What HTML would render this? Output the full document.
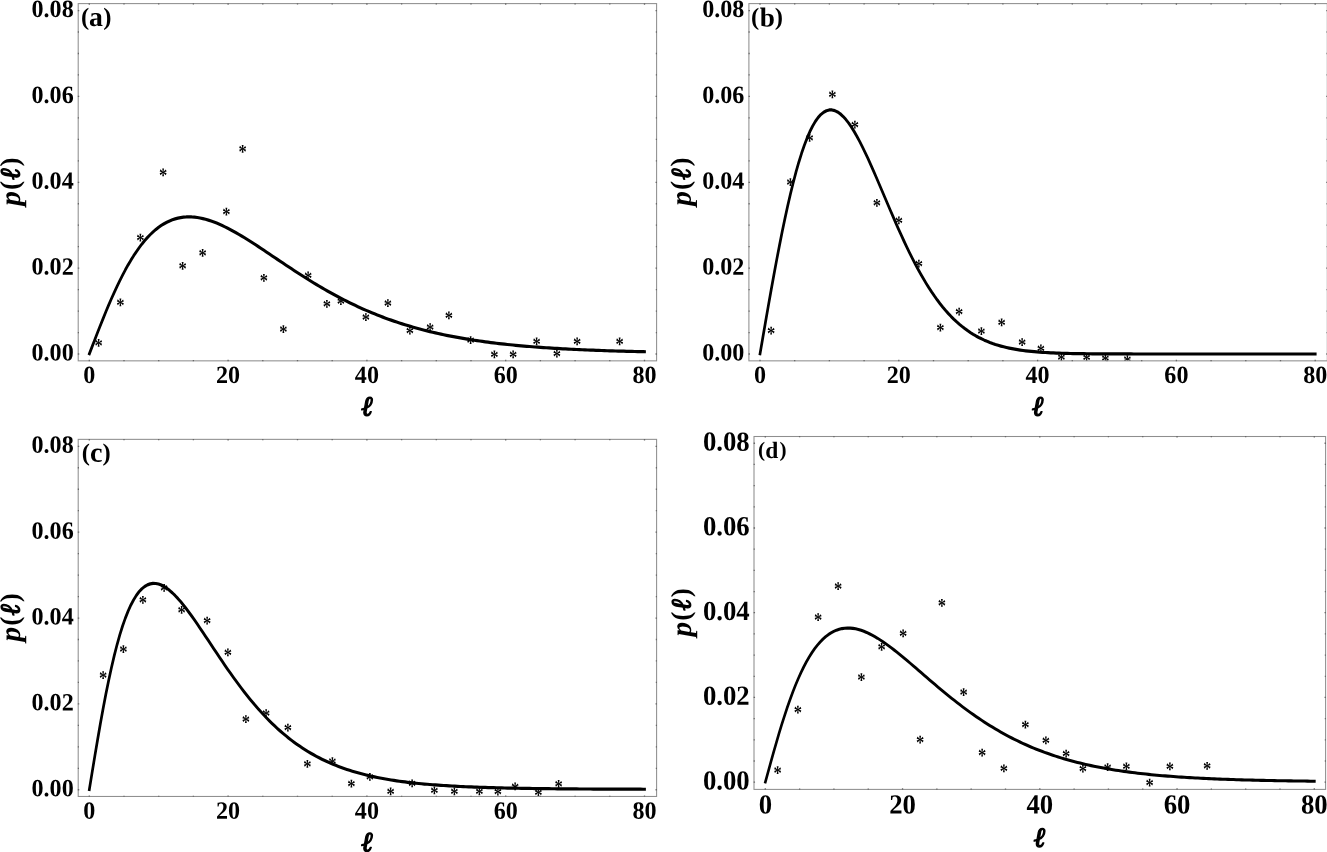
<!DOCTYPE html>
<html><head><meta charset="utf-8"><title>p(ℓ) distributions</title>
<style>html,body{margin:0;padding:0;background:#fff}svg{display:block}text{font-family:"Liberation Serif","Times New Roman",serif;font-weight:bold;fill:#000}.it{font-style:italic}</style></head>
<body>
<svg width="1327" height="852" viewBox="0 0 1327 852">
<rect width="1327" height="852" fill="#fff"/>
<g id="panel-a">
<clipPath id="clip-a"><rect x="78.2" y="3.6" width="578.4" height="357.25"/></clipPath>
<g clip-path="url(#clip-a)">
<g font-size="19.0" text-anchor="middle">
<text transform="translate(98.60 342.80) rotate(0.06) scale(0.87 1.08)" y="8.95">*</text>
<text transform="translate(120.30 302.40) rotate(0.06) scale(0.87 1.08)" y="8.95">*</text>
<text transform="translate(140.50 237.60) rotate(0.06) scale(0.87 1.08)" y="8.95">*</text>
<text transform="translate(163.20 172.40) rotate(0.06) scale(0.87 1.08)" y="8.95">*</text>
<text transform="translate(182.65 265.85) rotate(0.06) scale(0.87 1.08)" y="8.95">*</text>
<text transform="translate(202.75 252.80) rotate(0.06) scale(0.87 1.08)" y="8.95">*</text>
<text transform="translate(226.40 211.50) rotate(0.06) scale(0.87 1.08)" y="8.95">*</text>
<text transform="translate(242.70 148.90) rotate(0.06) scale(0.87 1.08)" y="8.95">*</text>
<text transform="translate(264.00 277.90) rotate(0.06) scale(0.87 1.08)" y="8.95">*</text>
<text transform="translate(283.30 329.00) rotate(0.06) scale(0.87 1.08)" y="8.95">*</text>
<text transform="translate(308.10 275.40) rotate(0.06) scale(0.87 1.08)" y="8.95">*</text>
<text transform="translate(326.80 303.80) rotate(0.06) scale(0.87 1.08)" y="8.95">*</text>
<text transform="translate(340.80 301.10) rotate(0.06) scale(0.87 1.08)" y="8.95">*</text>
<text transform="translate(365.85 317.00) rotate(0.06) scale(0.87 1.08)" y="8.95">*</text>
<text transform="translate(387.95 303.00) rotate(0.06) scale(0.87 1.08)" y="8.95">*</text>
<text transform="translate(409.80 330.50) rotate(0.06) scale(0.87 1.08)" y="8.95">*</text>
<text transform="translate(430.10 327.10) rotate(0.06) scale(0.87 1.08)" y="8.95">*</text>
<text transform="translate(448.80 315.30) rotate(0.06) scale(0.87 1.08)" y="8.95">*</text>
<text transform="translate(470.60 340.05) rotate(0.06) scale(0.87 1.08)" y="8.95">*</text>
<text transform="translate(494.40 354.40) rotate(0.06) scale(0.87 1.08)" y="8.95">*</text>
<text transform="translate(513.20 354.40) rotate(0.06) scale(0.87 1.08)" y="8.95">*</text>
<text transform="translate(536.60 341.30) rotate(0.06) scale(0.87 1.08)" y="8.95">*</text>
<text transform="translate(556.90 353.60) rotate(0.06) scale(0.87 1.08)" y="8.95">*</text>
<text transform="translate(577.10 341.30) rotate(0.06) scale(0.87 1.08)" y="8.95">*</text>
<text transform="translate(619.60 341.40) rotate(0.06) scale(0.87 1.08)" y="8.95">*</text>
</g>
<path transform="scale(1 1.18)" d="M88.84 301.02 L89.30 300.00 L92.07 293.87 L94.84 287.76 L97.61 281.71 L100.38 275.74 L103.15 269.87 L105.91 264.12 L108.68 258.52 L111.45 253.09 L114.22 247.83 L116.99 242.76 L119.76 237.89 L122.53 233.24 L125.30 228.79 L128.07 224.57 L130.84 220.58 L133.61 216.80 L136.37 213.26 L139.14 209.93 L141.91 206.83 L144.68 203.95 L147.45 201.29 L150.22 198.84 L152.99 196.60 L155.76 194.56 L158.53 192.71 L161.30 191.06 L164.07 189.60 L166.83 188.32 L169.60 187.21 L172.37 186.27 L175.14 185.49 L177.91 184.86 L180.68 184.39 L183.45 184.06 L186.22 183.87 L188.99 183.80 L191.76 183.87 L194.53 184.05 L197.29 184.34 L200.06 184.74 L202.83 185.24 L205.60 185.84 L208.37 186.52 L211.14 187.30 L213.91 188.15 L216.68 189.07 L219.45 190.07 L222.22 191.13 L224.99 192.25 L227.75 193.43 L230.52 194.65 L233.29 195.93 L236.06 197.25 L238.83 198.61 L241.60 200.00 L244.37 201.42 L247.14 202.88 L249.91 204.36 L252.68 205.86 L255.45 207.38 L258.21 208.91 L260.98 210.46 L263.75 212.02 L266.52 213.59 L269.29 215.17 L272.06 216.75 L274.83 218.33 L277.60 219.91 L280.37 221.48 L283.14 223.06 L285.91 224.62 L288.67 226.18 L291.44 227.73 L294.21 229.27 L296.98 230.80 L299.75 232.32 L302.52 233.82 L305.29 235.31 L308.06 236.78 L310.83 238.24 L313.60 239.67 L316.37 241.09 L319.13 242.49 L321.90 243.87 L324.67 245.23 L327.44 246.57 L330.21 247.89 L332.98 249.19 L335.75 250.46 L338.52 251.72 L341.29 252.95 L344.06 254.16 L346.83 255.35 L349.59 256.51 L352.36 257.65 L355.13 258.77 L357.90 259.87 L360.67 260.94 L363.44 262.00 L366.21 263.03 L368.98 264.03 L371.75 265.02 L374.52 265.98 L377.29 266.92 L380.05 267.84 L382.82 268.74 L385.59 269.62 L388.36 270.47 L391.13 271.31 L393.90 272.12 L396.67 272.92 L399.44 273.69 L402.21 274.45 L404.98 275.19 L407.75 275.90 L410.51 276.60 L413.28 277.28 L416.05 277.95 L418.82 278.59 L421.59 279.22 L424.36 279.83 L427.13 280.43 L429.90 281.01 L432.67 281.57 L435.44 282.12 L438.21 282.65 L440.98 283.16 L443.74 283.67 L446.51 284.16 L449.28 284.63 L452.05 285.09 L454.82 285.54 L457.59 285.97 L460.36 286.39 L463.13 286.80 L465.90 287.20 L468.67 287.59 L471.44 287.96 L474.20 288.33 L476.97 288.68 L479.74 289.02 L482.51 289.35 L485.28 289.67 L488.05 289.99 L490.82 290.29 L493.59 290.58 L496.36 290.87 L499.13 291.14 L501.90 291.41 L504.66 291.67 L507.43 291.92 L510.20 292.16 L512.97 292.40 L515.74 292.63 L518.51 292.85 L521.28 293.06 L524.05 293.27 L526.82 293.47 L529.59 293.67 L532.36 293.86 L535.12 294.04 L537.89 294.22 L540.66 294.39 L543.43 294.56 L546.20 294.72 L548.97 294.87 L551.74 295.02 L554.51 295.17 L557.28 295.31 L560.05 295.45 L562.82 295.58 L565.58 295.71 L568.35 295.84 L571.12 295.96 L573.89 296.07 L576.66 296.19 L579.43 296.30 L582.20 296.40 L584.97 296.50 L587.74 296.60 L590.51 296.70 L593.28 296.79 L596.04 296.88 L598.81 296.97 L601.58 297.05 L604.35 297.14 L607.12 297.22 L609.89 297.29 L612.66 297.37 L615.43 297.44 L618.20 297.51 L620.97 297.57 L623.74 297.64 L626.50 297.70 L629.27 297.76 L632.04 297.82 L634.81 297.88 L637.58 297.94 L640.35 297.99 L643.12 298.04 L645.89 298.09" fill="none" stroke="#000" stroke-width="2.7" stroke-linejoin="round"/>
</g>
<rect x="78.2" y="3.6" width="578.4" height="357.25" fill="none" stroke="#8e8e8e" stroke-width="1.05"/>
<path d="M89.3 361.25v-1.4500000000000002M89.3 3.2v1.4500000000000002M124 361.25v-1.2000000000000002M124 3.2v1.2000000000000002M158.7 361.25v-1.2000000000000002M158.7 3.2v1.2000000000000002M193.4 361.25v-1.2000000000000002M193.4 3.2v1.2000000000000002M228.1 361.25v-1.4500000000000002M228.1 3.2v1.4500000000000002M262.8 361.25v-1.2000000000000002M262.8 3.2v1.2000000000000002M297.5 361.25v-1.2000000000000002M297.5 3.2v1.2000000000000002M332.2 361.25v-1.2000000000000002M332.2 3.2v1.2000000000000002M366.9 361.25v-1.4500000000000002M366.9 3.2v1.4500000000000002M401.6 361.25v-1.2000000000000002M401.6 3.2v1.2000000000000002M436.3 361.25v-1.2000000000000002M436.3 3.2v1.2000000000000002M471 361.25v-1.2000000000000002M471 3.2v1.2000000000000002M505.7 361.25v-1.4500000000000002M505.7 3.2v1.4500000000000002M540.4 361.25v-1.2000000000000002M540.4 3.2v1.2000000000000002M575.1 361.25v-1.2000000000000002M575.1 3.2v1.2000000000000002M609.8 361.25v-1.2000000000000002M609.8 3.2v1.2000000000000002M644.5 361.25v-1.4500000000000002M644.5 3.2v1.4500000000000002M77.8 354h1.4500000000000002M657 354h-1.4500000000000002M77.8 332.54h1.2000000000000002M657 332.54h-1.2000000000000002M77.8 311.07h1.2000000000000002M657 311.07h-1.2000000000000002M77.8 289.61h1.2000000000000002M657 289.61h-1.2000000000000002M77.8 268.14h1.4500000000000002M657 268.14h-1.4500000000000002M77.8 246.68h1.2000000000000002M657 246.68h-1.2000000000000002M77.8 225.21h1.2000000000000002M657 225.21h-1.2000000000000002M77.8 203.75h1.2000000000000002M657 203.75h-1.2000000000000002M77.8 182.28h1.4500000000000002M657 182.28h-1.4500000000000002M77.8 160.81h1.2000000000000002M657 160.81h-1.2000000000000002M77.8 139.35h1.2000000000000002M657 139.35h-1.2000000000000002M77.8 117.88h1.2000000000000002M657 117.88h-1.2000000000000002M77.8 96.42h1.4500000000000002M657 96.42h-1.4500000000000002M77.8 74.95h1.2000000000000002M657 74.95h-1.2000000000000002M77.8 53.49h1.2000000000000002M657 53.49h-1.2000000000000002M77.8 32.02h1.2000000000000002M657 32.02h-1.2000000000000002M77.8 10.56h1.4500000000000002M657 10.56h-1.4500000000000002" stroke="#686868" stroke-width="1.3" fill="none"/>
<text transform="translate(73.7 360.5) rotate(0.06) scale(1 1.033)" font-size="24.1" text-anchor="end">0.00</text>
<text transform="translate(73.7 274.64) rotate(0.06) scale(1 1.033)" font-size="24.1" text-anchor="end">0.02</text>
<text transform="translate(73.7 188.78) rotate(0.06) scale(1 1.033)" font-size="24.1" text-anchor="end">0.04</text>
<text transform="translate(73.7 102.92) rotate(0.06) scale(1 1.033)" font-size="24.1" text-anchor="end">0.06</text>
<text transform="translate(73.7 17.06) rotate(0.06) scale(1 1.033)" font-size="24.1" text-anchor="end">0.08</text>
<text transform="translate(89.3 383) rotate(0.06) scale(1 1.033)" font-size="24.1" text-anchor="middle">0</text>
<text transform="translate(228.1 383) rotate(0.06) scale(1 1.033)" font-size="24.1" text-anchor="middle">20</text>
<text transform="translate(366.9 383) rotate(0.06) scale(1 1.033)" font-size="24.1" text-anchor="middle">40</text>
<text transform="translate(505.7 383) rotate(0.06) scale(1 1.033)" font-size="24.1" text-anchor="middle">60</text>
<text transform="translate(644.5 383) rotate(0.06) scale(1 1.033)" font-size="24.1" text-anchor="middle">80</text>
<text transform="translate(80.89 24.84) rotate(0.06)"><tspan x="0.00" y="0.00" font-size="24.70">(</tspan><tspan x="8.07" y="1.24" font-size="27.79">a</tspan><tspan x="22.49" y="0.00" font-size="24.70">)</tspan></text>
<text class="it" transform="translate(361.48 415.38) rotate(0.06)" font-size="27.7" stroke="#000" stroke-width="1.3" stroke-linejoin="round">ℓ</text>
<text transform="translate(-0.2 208) rotate(-90.06)"><tspan class="it" x="2.26" y="20.13" font-size="29.3">p</tspan><tspan x="18.01" y="18.89" font-size="27.2">(</tspan><tspan class="it" x="28.47" y="19.68" font-size="27.7" stroke="#000" stroke-width="1.3" stroke-linejoin="round">ℓ</tspan><tspan x="41.53" y="18.89" font-size="27.2">)</tspan></text>
</g>
<g id="panel-b">
<clipPath id="clip-b"><rect x="748.9" y="3.6" width="578.4" height="357.25"/></clipPath>
<g clip-path="url(#clip-b)">
<g font-size="19.0" text-anchor="middle">
<text transform="translate(771.26 330.50) rotate(0.06) scale(0.87 1.08)" y="8.95">*</text>
<text transform="translate(790.30 182.20) rotate(0.06) scale(0.87 1.08)" y="8.95">*</text>
<text transform="translate(809.60 137.80) rotate(0.06) scale(0.87 1.08)" y="8.95">*</text>
<text transform="translate(832.50 94.30) rotate(0.06) scale(0.87 1.08)" y="8.95">*</text>
<text transform="translate(855.00 124.70) rotate(0.06) scale(0.87 1.08)" y="8.95">*</text>
<text transform="translate(877.00 202.90) rotate(0.06) scale(0.87 1.08)" y="8.95">*</text>
<text transform="translate(899.00 220.40) rotate(0.06) scale(0.87 1.08)" y="8.95">*</text>
<text transform="translate(918.90 263.50) rotate(0.06) scale(0.87 1.08)" y="8.95">*</text>
<text transform="translate(940.50 327.70) rotate(0.06) scale(0.87 1.08)" y="8.95">*</text>
<text transform="translate(959.20 311.50) rotate(0.06) scale(0.87 1.08)" y="8.95">*</text>
<text transform="translate(981.30 331.10) rotate(0.06) scale(0.87 1.08)" y="8.95">*</text>
<text transform="translate(1001.60 322.30) rotate(0.06) scale(0.87 1.08)" y="8.95">*</text>
<text transform="translate(1022.10 342.00) rotate(0.06) scale(0.87 1.08)" y="8.95">*</text>
<text transform="translate(1041.00 348.40) rotate(0.06) scale(0.87 1.08)" y="8.95">*</text>
<text transform="translate(1061.30 357.00) rotate(0.06) scale(0.87 1.08)" y="8.95">*</text>
<text transform="translate(1086.60 357.30) rotate(0.06) scale(0.87 1.08)" y="8.95">*</text>
<text transform="translate(1105.40 358.20) rotate(0.06) scale(0.87 1.08)" y="8.95">*</text>
<text transform="translate(1127.40 359.10) rotate(0.06) scale(0.87 1.08)" y="8.95">*</text>
</g>
<path transform="scale(1 1.18)" d="M759.79 301.02 L760.00 300.00 L762.77 286.36 L765.54 272.79 L768.31 259.36 L771.08 246.14 L773.85 233.18 L776.61 220.56 L779.38 208.33 L782.15 196.54 L784.92 185.24 L787.69 174.48 L790.46 164.31 L793.23 154.74 L796.00 145.82 L798.77 137.58 L801.54 130.02 L804.31 123.16 L807.07 117.02 L809.84 111.59 L812.61 106.88 L815.38 102.88 L818.15 99.59 L820.92 97.00 L823.69 95.07 L826.46 93.81 L829.23 93.18 L832.00 93.17 L834.77 93.73 L837.53 94.86 L840.30 96.50 L843.07 98.64 L845.84 101.24 L848.61 104.26 L851.38 107.67 L854.15 111.44 L856.92 115.53 L859.69 119.90 L862.46 124.53 L865.23 129.38 L867.99 134.41 L870.76 139.60 L873.53 144.91 L876.30 150.32 L879.07 155.80 L881.84 161.31 L884.61 166.85 L887.38 172.38 L890.15 177.88 L892.92 183.33 L895.69 188.72 L898.45 194.03 L901.22 199.24 L903.99 204.34 L906.76 209.32 L909.53 214.17 L912.30 218.88 L915.07 223.44 L917.84 227.85 L920.61 232.10 L923.38 236.19 L926.15 240.12 L928.91 243.88 L931.68 247.48 L934.45 250.91 L937.22 254.18 L939.99 257.28 L942.76 260.23 L945.53 263.02 L948.30 265.66 L951.07 268.15 L953.84 270.50 L956.61 272.71 L959.37 274.78 L962.14 276.72 L964.91 278.54 L967.68 280.24 L970.45 281.83 L973.22 283.31 L975.99 284.69 L978.76 285.97 L981.53 287.15 L984.30 288.25 L987.07 289.27 L989.83 290.21 L992.60 291.08 L995.37 291.88 L998.14 292.61 L1000.91 293.29 L1003.68 293.91 L1006.45 294.48 L1009.22 295.00 L1011.99 295.48 L1014.76 295.91 L1017.53 296.31 L1020.29 296.67 L1023.06 297.00 L1025.83 297.30 L1028.60 297.57 L1031.37 297.82 L1034.14 298.04 L1036.91 298.24 L1039.68 298.43 L1042.45 298.59 L1045.22 298.74 L1047.99 298.88 L1050.75 299.00 L1053.52 299.11 L1056.29 299.20 L1059.06 299.29 L1061.83 299.37 L1064.60 299.44 L1067.37 299.50 L1070.14 299.56 L1072.91 299.61 L1075.68 299.65 L1078.45 299.69 L1081.21 299.73 L1083.98 299.76 L1086.75 299.79 L1089.52 299.81 L1092.29 299.84 L1095.06 299.86 L1097.83 299.87 L1100.60 299.89 L1103.37 299.90 L1106.14 299.91 L1108.91 299.92 L1111.68 299.93 L1114.44 299.94 L1117.21 299.95 L1119.98 299.96 L1122.75 299.96 L1125.52 299.97 L1128.29 299.97 L1131.06 299.97 L1133.83 299.98 L1136.60 299.98 L1139.37 299.98 L1142.14 299.99 L1144.90 299.99 L1147.67 299.99 L1150.44 299.99 L1153.21 299.99 L1155.98 299.99 L1158.75 299.99 L1161.52 299.99 L1164.29 300.00 L1167.06 300.00 L1169.83 300.00 L1172.60 300.00 L1175.36 300.00 L1178.13 300.00 L1180.90 300.00 L1183.67 300.00 L1186.44 300.00 L1189.21 300.00 L1191.98 300.00 L1194.75 300.00 L1197.52 300.00 L1200.29 300.00 L1203.06 300.00 L1205.82 300.00 L1208.59 300.00 L1211.36 300.00 L1214.13 300.00 L1216.90 300.00 L1219.67 300.00 L1222.44 300.00 L1225.21 300.00 L1227.98 300.00 L1230.75 300.00 L1233.52 300.00 L1236.28 300.00 L1239.05 300.00 L1241.82 300.00 L1244.59 300.00 L1247.36 300.00 L1250.13 300.00 L1252.90 300.00 L1255.67 300.00 L1258.44 300.00 L1261.21 300.00 L1263.98 300.00 L1266.74 300.00 L1269.51 300.00 L1272.28 300.00 L1275.05 300.00 L1277.82 300.00 L1280.59 300.00 L1283.36 300.00 L1286.13 300.00 L1288.90 300.00 L1291.67 300.00 L1294.44 300.00 L1297.20 300.00 L1299.97 300.00 L1302.74 300.00 L1305.51 300.00 L1308.28 300.00 L1311.05 300.00 L1313.82 300.00 L1316.59 300.00" fill="none" stroke="#000" stroke-width="2.7" stroke-linejoin="round"/>
</g>
<rect x="748.9" y="3.6" width="578.4" height="357.25" fill="none" stroke="#8e8e8e" stroke-width="1.05"/>
<path d="M760 361.25v-1.4500000000000002M760 3.2v1.4500000000000002M794.7 361.25v-1.2000000000000002M794.7 3.2v1.2000000000000002M829.4 361.25v-1.2000000000000002M829.4 3.2v1.2000000000000002M864.1 361.25v-1.2000000000000002M864.1 3.2v1.2000000000000002M898.8 361.25v-1.4500000000000002M898.8 3.2v1.4500000000000002M933.5 361.25v-1.2000000000000002M933.5 3.2v1.2000000000000002M968.2 361.25v-1.2000000000000002M968.2 3.2v1.2000000000000002M1002.9 361.25v-1.2000000000000002M1002.9 3.2v1.2000000000000002M1037.6 361.25v-1.4500000000000002M1037.6 3.2v1.4500000000000002M1072.3 361.25v-1.2000000000000002M1072.3 3.2v1.2000000000000002M1107 361.25v-1.2000000000000002M1107 3.2v1.2000000000000002M1141.7 361.25v-1.2000000000000002M1141.7 3.2v1.2000000000000002M1176.4 361.25v-1.4500000000000002M1176.4 3.2v1.4500000000000002M1211.1 361.25v-1.2000000000000002M1211.1 3.2v1.2000000000000002M1245.8 361.25v-1.2000000000000002M1245.8 3.2v1.2000000000000002M1280.5 361.25v-1.2000000000000002M1280.5 3.2v1.2000000000000002M1315.2 361.25v-1.4500000000000002M1315.2 3.2v1.4500000000000002M748.5 354h1.4500000000000002M1327.7 354h-1.4500000000000002M748.5 332.54h1.2000000000000002M1327.7 332.54h-1.2000000000000002M748.5 311.07h1.2000000000000002M1327.7 311.07h-1.2000000000000002M748.5 289.61h1.2000000000000002M1327.7 289.61h-1.2000000000000002M748.5 268.14h1.4500000000000002M1327.7 268.14h-1.4500000000000002M748.5 246.68h1.2000000000000002M1327.7 246.68h-1.2000000000000002M748.5 225.21h1.2000000000000002M1327.7 225.21h-1.2000000000000002M748.5 203.75h1.2000000000000002M1327.7 203.75h-1.2000000000000002M748.5 182.28h1.4500000000000002M1327.7 182.28h-1.4500000000000002M748.5 160.81h1.2000000000000002M1327.7 160.81h-1.2000000000000002M748.5 139.35h1.2000000000000002M1327.7 139.35h-1.2000000000000002M748.5 117.88h1.2000000000000002M1327.7 117.88h-1.2000000000000002M748.5 96.42h1.4500000000000002M1327.7 96.42h-1.4500000000000002M748.5 74.95h1.2000000000000002M1327.7 74.95h-1.2000000000000002M748.5 53.49h1.2000000000000002M1327.7 53.49h-1.2000000000000002M748.5 32.02h1.2000000000000002M1327.7 32.02h-1.2000000000000002M748.5 10.56h1.4500000000000002M1327.7 10.56h-1.4500000000000002" stroke="#686868" stroke-width="1.3" fill="none"/>
<text transform="translate(744.4 360.5) rotate(0.06) scale(1 1.033)" font-size="24.1" text-anchor="end">0.00</text>
<text transform="translate(744.4 274.64) rotate(0.06) scale(1 1.033)" font-size="24.1" text-anchor="end">0.02</text>
<text transform="translate(744.4 188.78) rotate(0.06) scale(1 1.033)" font-size="24.1" text-anchor="end">0.04</text>
<text transform="translate(744.4 102.92) rotate(0.06) scale(1 1.033)" font-size="24.1" text-anchor="end">0.06</text>
<text transform="translate(744.4 17.06) rotate(0.06) scale(1 1.033)" font-size="24.1" text-anchor="end">0.08</text>
<text transform="translate(760 383) rotate(0.06) scale(1 1.033)" font-size="24.1" text-anchor="middle">0</text>
<text transform="translate(898.8 383) rotate(0.06) scale(1 1.033)" font-size="24.1" text-anchor="middle">20</text>
<text transform="translate(1037.6 383) rotate(0.06) scale(1 1.033)" font-size="24.1" text-anchor="middle">40</text>
<text transform="translate(1176.4 383) rotate(0.06) scale(1 1.033)" font-size="24.1" text-anchor="middle">60</text>
<text transform="translate(1315.2 383) rotate(0.06) scale(1 1.033)" font-size="24.1" text-anchor="middle">80</text>
<text transform="translate(751.07 24.84) rotate(0.06)"><tspan x="0.00" y="0.00" font-size="24.70">(</tspan><tspan x="8.73" y="1.71" font-size="27.26">b</tspan><tspan x="23.71" y="0.00" font-size="24.70">)</tspan></text>
<text class="it" transform="translate(1032.18 415.38) rotate(0.06)" font-size="27.7" stroke="#000" stroke-width="1.3" stroke-linejoin="round">ℓ</text>
<text transform="translate(670.5 208) rotate(-90.06)"><tspan class="it" x="2.26" y="20.13" font-size="29.3">p</tspan><tspan x="18.01" y="18.89" font-size="27.2">(</tspan><tspan class="it" x="28.47" y="19.68" font-size="27.7" stroke="#000" stroke-width="1.3" stroke-linejoin="round">ℓ</tspan><tspan x="41.53" y="18.89" font-size="27.2">)</tspan></text>
</g>
<g id="panel-c">
<clipPath id="clip-c"><rect x="78.2" y="439.35" width="578.4" height="357.1"/></clipPath>
<g clip-path="url(#clip-c)">
<g font-size="19.0" text-anchor="middle">
<text transform="translate(103.26 675.15) rotate(0.06) scale(0.87 1.08)" y="8.95">*</text>
<text transform="translate(123.27 649.07) rotate(0.06) scale(0.87 1.08)" y="8.95">*</text>
<text transform="translate(142.96 599.83) rotate(0.06) scale(0.87 1.08)" y="8.95">*</text>
<text transform="translate(164.20 587.95) rotate(0.06) scale(0.87 1.08)" y="8.95">*</text>
<text transform="translate(181.70 609.80) rotate(0.06) scale(0.87 1.08)" y="8.95">*</text>
<text transform="translate(207.20 620.60) rotate(0.06) scale(0.87 1.08)" y="8.95">*</text>
<text transform="translate(227.96 652.30) rotate(0.06) scale(0.87 1.08)" y="8.95">*</text>
<text transform="translate(245.90 719.10) rotate(0.06) scale(0.87 1.08)" y="8.95">*</text>
<text transform="translate(266.26 713.13) rotate(0.06) scale(0.87 1.08)" y="8.95">*</text>
<text transform="translate(288.00 727.50) rotate(0.06) scale(0.87 1.08)" y="8.95">*</text>
<text transform="translate(307.40 763.76) rotate(0.06) scale(0.87 1.08)" y="8.95">*</text>
<text transform="translate(332.40 761.10) rotate(0.06) scale(0.87 1.08)" y="8.95">*</text>
<text transform="translate(351.28 783.46) rotate(0.06) scale(0.87 1.08)" y="8.95">*</text>
<text transform="translate(369.85 776.77) rotate(0.06) scale(0.87 1.08)" y="8.95">*</text>
<text transform="translate(390.75 791.30) rotate(0.06) scale(0.87 1.08)" y="8.95">*</text>
<text transform="translate(412.10 783.30) rotate(0.06) scale(0.87 1.08)" y="8.95">*</text>
<text transform="translate(434.30 790.40) rotate(0.06) scale(0.87 1.08)" y="8.95">*</text>
<text transform="translate(454.30 791.30) rotate(0.06) scale(0.87 1.08)" y="8.95">*</text>
<text transform="translate(479.30 791.30) rotate(0.06) scale(0.87 1.08)" y="8.95">*</text>
<text transform="translate(497.80 791.70) rotate(0.06) scale(0.87 1.08)" y="8.95">*</text>
<text transform="translate(515.20 786.30) rotate(0.06) scale(0.87 1.08)" y="8.95">*</text>
<text transform="translate(538.50 792.30) rotate(0.06) scale(0.87 1.08)" y="8.95">*</text>
<text transform="translate(558.60 783.80) rotate(0.06) scale(0.87 1.08)" y="8.95">*</text>
</g>
<path transform="scale(1 1.18)" d="M89.10 670.30 L89.30 669.28 L92.07 654.90 L94.84 640.68 L97.61 626.76 L100.38 613.27 L103.15 600.34 L105.91 588.06 L108.68 576.49 L111.45 565.70 L114.22 555.70 L116.99 546.53 L119.76 538.19 L122.53 530.65 L125.30 523.93 L128.07 517.98 L130.84 512.79 L133.61 508.32 L136.37 504.54 L139.14 501.42 L141.91 498.92 L144.68 497.00 L147.45 495.64 L150.22 494.79 L152.99 494.41 L155.76 494.48 L158.53 494.96 L161.30 495.82 L164.07 497.02 L166.83 498.54 L169.60 500.35 L172.37 502.42 L175.14 504.73 L177.91 507.24 L180.68 509.94 L183.45 512.80 L186.22 515.81 L188.99 518.94 L191.76 522.17 L194.53 525.49 L197.29 528.88 L200.06 532.32 L202.83 535.81 L205.60 539.33 L208.37 542.86 L211.14 546.41 L213.91 549.94 L216.68 553.47 L219.45 556.97 L222.22 560.45 L224.99 563.88 L227.75 567.28 L230.52 570.63 L233.29 573.93 L236.06 577.17 L238.83 580.35 L241.60 583.47 L244.37 586.52 L247.14 589.50 L249.91 592.41 L252.68 595.25 L255.45 598.02 L258.21 600.71 L260.98 603.33 L263.75 605.88 L266.52 608.35 L269.29 610.74 L272.06 613.07 L274.83 615.31 L277.60 617.49 L280.37 619.59 L283.14 621.62 L285.91 623.58 L288.67 625.48 L291.44 627.30 L294.21 629.06 L296.98 630.76 L299.75 632.39 L302.52 633.96 L305.29 635.47 L308.06 636.93 L310.83 638.32 L313.60 639.66 L316.37 640.95 L319.13 642.19 L321.90 643.37 L324.67 644.51 L327.44 645.60 L330.21 646.65 L332.98 647.65 L335.75 648.61 L338.52 649.52 L341.29 650.40 L344.06 651.24 L346.83 652.05 L349.59 652.82 L352.36 653.55 L355.13 654.26 L357.90 654.93 L360.67 655.57 L363.44 656.19 L366.21 656.77 L368.98 657.33 L371.75 657.87 L374.52 658.38 L377.29 658.87 L380.05 659.33 L382.82 659.78 L385.59 660.20 L388.36 660.60 L391.13 660.99 L393.90 661.36 L396.67 661.71 L399.44 662.04 L402.21 662.36 L404.98 662.67 L407.75 662.96 L410.51 663.23 L413.28 663.50 L416.05 663.75 L418.82 663.99 L421.59 664.22 L424.36 664.44 L427.13 664.64 L429.90 664.84 L432.67 665.03 L435.44 665.21 L438.21 665.38 L440.98 665.55 L443.74 665.70 L446.51 665.85 L449.28 665.99 L452.05 666.13 L454.82 666.26 L457.59 666.38 L460.36 666.50 L463.13 666.61 L465.90 666.71 L468.67 666.82 L471.44 666.91 L474.20 667.01 L476.97 667.09 L479.74 667.18 L482.51 667.26 L485.28 667.34 L488.05 667.41 L490.82 667.48 L493.59 667.54 L496.36 667.61 L499.13 667.67 L501.90 667.73 L504.66 667.78 L507.43 667.84 L510.20 667.89 L512.97 667.93 L515.74 667.98 L518.51 668.02 L521.28 668.07 L524.05 668.11 L526.82 668.14 L529.59 668.18 L532.36 668.21 L535.12 668.25 L537.89 668.28 L540.66 668.31 L543.43 668.34 L546.20 668.37 L548.97 668.39 L551.74 668.42 L554.51 668.44 L557.28 668.47 L560.05 668.49 L562.82 668.51 L565.58 668.53 L568.35 668.55 L571.12 668.57 L573.89 668.59 L576.66 668.60 L579.43 668.62 L582.20 668.63 L584.97 668.65 L587.74 668.66 L590.51 668.67 L593.28 668.69 L596.04 668.70 L598.81 668.71 L601.58 668.72 L604.35 668.73 L607.12 668.74 L609.89 668.75 L612.66 668.76 L615.43 668.77 L618.20 668.78 L620.97 668.78 L623.74 668.79 L626.50 668.80 L629.27 668.80 L632.04 668.81 L634.81 668.82 L637.58 668.82 L640.35 668.82 L643.12 668.83 L645.89 668.83" fill="none" stroke="#000" stroke-width="2.7" stroke-linejoin="round"/>
</g>
<rect x="78.2" y="439.35" width="578.4" height="357.1" fill="none" stroke="#8e8e8e" stroke-width="1.05"/>
<path d="M89.3 796.85v-1.4500000000000002M89.3 438.95v1.4500000000000002M124 796.85v-1.2000000000000002M124 438.95v1.2000000000000002M158.7 796.85v-1.2000000000000002M158.7 438.95v1.2000000000000002M193.4 796.85v-1.2000000000000002M193.4 438.95v1.2000000000000002M228.1 796.85v-1.4500000000000002M228.1 438.95v1.4500000000000002M262.8 796.85v-1.2000000000000002M262.8 438.95v1.2000000000000002M297.5 796.85v-1.2000000000000002M297.5 438.95v1.2000000000000002M332.2 796.85v-1.2000000000000002M332.2 438.95v1.2000000000000002M366.9 796.85v-1.4500000000000002M366.9 438.95v1.4500000000000002M401.6 796.85v-1.2000000000000002M401.6 438.95v1.2000000000000002M436.3 796.85v-1.2000000000000002M436.3 438.95v1.2000000000000002M471 796.85v-1.2000000000000002M471 438.95v1.2000000000000002M505.7 796.85v-1.4500000000000002M505.7 438.95v1.4500000000000002M540.4 796.85v-1.2000000000000002M540.4 438.95v1.2000000000000002M575.1 796.85v-1.2000000000000002M575.1 438.95v1.2000000000000002M609.8 796.85v-1.2000000000000002M609.8 438.95v1.2000000000000002M644.5 796.85v-1.4500000000000002M644.5 438.95v1.4500000000000002M77.8 789.75h1.4500000000000002M657 789.75h-1.4500000000000002M77.8 768.28h1.2000000000000002M657 768.28h-1.2000000000000002M77.8 746.82h1.2000000000000002M657 746.82h-1.2000000000000002M77.8 725.36h1.2000000000000002M657 725.36h-1.2000000000000002M77.8 703.89h1.4500000000000002M657 703.89h-1.4500000000000002M77.8 682.42h1.2000000000000002M657 682.42h-1.2000000000000002M77.8 660.96h1.2000000000000002M657 660.96h-1.2000000000000002M77.8 639.5h1.2000000000000002M657 639.5h-1.2000000000000002M77.8 618.03h1.4500000000000002M657 618.03h-1.4500000000000002M77.8 596.57h1.2000000000000002M657 596.57h-1.2000000000000002M77.8 575.1h1.2000000000000002M657 575.1h-1.2000000000000002M77.8 553.63h1.2000000000000002M657 553.63h-1.2000000000000002M77.8 532.17h1.4500000000000002M657 532.17h-1.4500000000000002M77.8 510.7h1.2000000000000002M657 510.7h-1.2000000000000002M77.8 489.24h1.2000000000000002M657 489.24h-1.2000000000000002M77.8 467.77h1.2000000000000002M657 467.77h-1.2000000000000002M77.8 446.31h1.4500000000000002M657 446.31h-1.4500000000000002" stroke="#686868" stroke-width="1.3" fill="none"/>
<text transform="translate(73.7 796.25) rotate(0.06) scale(1 1.033)" font-size="24.1" text-anchor="end">0.00</text>
<text transform="translate(73.7 710.39) rotate(0.06) scale(1 1.033)" font-size="24.1" text-anchor="end">0.02</text>
<text transform="translate(73.7 624.53) rotate(0.06) scale(1 1.033)" font-size="24.1" text-anchor="end">0.04</text>
<text transform="translate(73.7 538.67) rotate(0.06) scale(1 1.033)" font-size="24.1" text-anchor="end">0.06</text>
<text transform="translate(73.7 452.81) rotate(0.06) scale(1 1.033)" font-size="24.1" text-anchor="end">0.08</text>
<text transform="translate(89.3 818.75) rotate(0.06) scale(1 1.033)" font-size="24.1" text-anchor="middle">0</text>
<text transform="translate(228.1 818.75) rotate(0.06) scale(1 1.033)" font-size="24.1" text-anchor="middle">20</text>
<text transform="translate(366.9 818.75) rotate(0.06) scale(1 1.033)" font-size="24.1" text-anchor="middle">40</text>
<text transform="translate(505.7 818.75) rotate(0.06) scale(1 1.033)" font-size="24.1" text-anchor="middle">60</text>
<text transform="translate(644.5 818.75) rotate(0.06) scale(1 1.033)" font-size="24.1" text-anchor="middle">80</text>
<text transform="translate(81.75 460.38) rotate(0.06)"><tspan x="0.00" y="0.00" font-size="24.54">(</tspan><tspan x="8.24" y="1.42" font-size="28.11">c</tspan><tspan x="20.84" y="0.00" font-size="24.54">)</tspan></text>
<text class="it" transform="translate(361.48 851.13) rotate(0.06)" font-size="27.7" stroke="#000" stroke-width="1.3" stroke-linejoin="round">ℓ</text>
<text transform="translate(-0.2 643.75) rotate(-90.06)"><tspan class="it" x="2.26" y="20.13" font-size="29.3">p</tspan><tspan x="18.01" y="18.89" font-size="27.2">(</tspan><tspan class="it" x="28.47" y="19.68" font-size="27.7" stroke="#000" stroke-width="1.3" stroke-linejoin="round">ℓ</tspan><tspan x="41.53" y="18.89" font-size="27.2">)</tspan></text>
</g>
<g id="panel-d">
<clipPath id="clip-d"><rect x="754" y="436.5" width="571.6" height="352.9"/></clipPath>
<g clip-path="url(#clip-d)">
<g font-size="19.0" text-anchor="middle">
<text transform="translate(777.63 770.00) rotate(0.06) scale(0.87 1.08)" y="8.95">*</text>
<text transform="translate(797.80 709.60) rotate(0.06) scale(0.87 1.08)" y="8.95">*</text>
<text transform="translate(818.10 617.20) rotate(0.06) scale(0.87 1.08)" y="8.95">*</text>
<text transform="translate(838.10 586.00) rotate(0.06) scale(0.87 1.08)" y="8.95">*</text>
<text transform="translate(861.30 677.10) rotate(0.06) scale(0.87 1.08)" y="8.95">*</text>
<text transform="translate(881.60 646.90) rotate(0.06) scale(0.87 1.08)" y="8.95">*</text>
<text transform="translate(903.10 633.30) rotate(0.06) scale(0.87 1.08)" y="8.95">*</text>
<text transform="translate(920.10 739.60) rotate(0.06) scale(0.87 1.08)" y="8.95">*</text>
<text transform="translate(941.90 602.80) rotate(0.06) scale(0.87 1.08)" y="8.95">*</text>
<text transform="translate(963.64 692.20) rotate(0.06) scale(0.87 1.08)" y="8.95">*</text>
<text transform="translate(982.20 752.60) rotate(0.06) scale(0.87 1.08)" y="8.95">*</text>
<text transform="translate(1003.90 768.30) rotate(0.06) scale(0.87 1.08)" y="8.95">*</text>
<text transform="translate(1025.50 724.50) rotate(0.06) scale(0.87 1.08)" y="8.95">*</text>
<text transform="translate(1045.80 740.45) rotate(0.06) scale(0.87 1.08)" y="8.95">*</text>
<text transform="translate(1066.20 753.60) rotate(0.06) scale(0.87 1.08)" y="8.95">*</text>
<text transform="translate(1083.00 768.60) rotate(0.06) scale(0.87 1.08)" y="8.95">*</text>
<text transform="translate(1107.65 767.20) rotate(0.06) scale(0.87 1.08)" y="8.95">*</text>
<text transform="translate(1126.40 766.30) rotate(0.06) scale(0.87 1.08)" y="8.95">*</text>
<text transform="translate(1149.60 782.60) rotate(0.06) scale(0.87 1.08)" y="8.95">*</text>
<text transform="translate(1169.85 766.30) rotate(0.06) scale(0.87 1.08)" y="8.95">*</text>
<text transform="translate(1207.10 765.95) rotate(0.06) scale(0.87 1.08)" y="8.95">*</text>
</g>
<path transform="scale(1 1.18)" d="M764.97 663.90 L765.30 662.88 L768.04 654.41 L770.78 645.99 L773.51 637.70 L776.25 629.58 L778.99 621.69 L781.73 614.06 L784.47 606.73 L787.21 599.72 L789.94 593.07 L792.68 586.78 L795.42 580.86 L798.16 575.32 L800.90 570.15 L803.63 565.36 L806.37 560.95 L809.11 556.89 L811.85 553.19 L814.59 549.84 L817.33 546.82 L820.06 544.12 L822.80 541.74 L825.54 539.65 L828.28 537.86 L831.02 536.33 L833.75 535.07 L836.49 534.05 L839.23 533.28 L841.97 532.72 L844.71 532.38 L847.45 532.25 L850.18 532.30 L852.92 532.52 L855.66 532.92 L858.40 533.47 L861.14 534.17 L863.87 535.01 L866.61 535.97 L869.35 537.05 L872.09 538.24 L874.83 539.53 L877.57 540.91 L880.30 542.38 L883.04 543.92 L885.78 545.54 L888.52 547.22 L891.26 548.95 L893.99 550.73 L896.73 552.56 L899.47 554.43 L902.21 556.33 L904.95 558.26 L907.68 560.21 L910.42 562.18 L913.16 564.17 L915.90 566.16 L918.64 568.17 L921.38 570.17 L924.11 572.18 L926.85 574.18 L929.59 576.18 L932.33 578.17 L935.07 580.15 L937.80 582.11 L940.54 584.06 L943.28 585.99 L946.02 587.90 L948.76 589.79 L951.50 591.66 L954.23 593.50 L956.97 595.32 L959.71 597.11 L962.45 598.88 L965.19 600.61 L967.92 602.32 L970.66 604.00 L973.40 605.65 L976.14 607.26 L978.88 608.85 L981.62 610.40 L984.35 611.93 L987.09 613.42 L989.83 614.88 L992.57 616.30 L995.31 617.70 L998.04 619.06 L1000.78 620.39 L1003.52 621.69 L1006.26 622.96 L1009.00 624.19 L1011.74 625.40 L1014.47 626.57 L1017.21 627.72 L1019.95 628.83 L1022.69 629.92 L1025.43 630.97 L1028.16 632.00 L1030.90 633.00 L1033.64 633.97 L1036.38 634.91 L1039.12 635.83 L1041.86 636.72 L1044.59 637.59 L1047.33 638.42 L1050.07 639.24 L1052.81 640.03 L1055.55 640.80 L1058.28 641.54 L1061.02 642.26 L1063.76 642.96 L1066.50 643.63 L1069.24 644.29 L1071.98 644.92 L1074.71 645.54 L1077.45 646.13 L1080.19 646.71 L1082.93 647.27 L1085.67 647.81 L1088.40 648.33 L1091.14 648.83 L1093.88 649.32 L1096.62 649.79 L1099.36 650.25 L1102.10 650.69 L1104.83 651.12 L1107.57 651.53 L1110.31 651.93 L1113.05 652.31 L1115.79 652.68 L1118.52 653.04 L1121.26 653.39 L1124.00 653.72 L1126.74 654.05 L1129.48 654.36 L1132.21 654.66 L1134.95 654.95 L1137.69 655.23 L1140.43 655.50 L1143.17 655.76 L1145.91 656.01 L1148.64 656.25 L1151.38 656.49 L1154.12 656.71 L1156.86 656.93 L1159.60 657.14 L1162.33 657.34 L1165.07 657.54 L1167.81 657.73 L1170.55 657.91 L1173.29 658.08 L1176.03 658.25 L1178.76 658.42 L1181.50 658.57 L1184.24 658.72 L1186.98 658.87 L1189.72 659.01 L1192.45 659.15 L1195.19 659.28 L1197.93 659.40 L1200.67 659.52 L1203.41 659.64 L1206.15 659.75 L1208.88 659.86 L1211.62 659.96 L1214.36 660.06 L1217.10 660.16 L1219.84 660.25 L1222.57 660.34 L1225.31 660.43 L1228.05 660.51 L1230.79 660.59 L1233.53 660.67 L1236.27 660.75 L1239.00 660.82 L1241.74 660.89 L1244.48 660.96 L1247.22 661.02 L1249.96 661.08 L1252.69 661.14 L1255.43 661.20 L1258.17 661.25 L1260.91 661.31 L1263.65 661.36 L1266.39 661.41 L1269.12 661.46 L1271.86 661.50 L1274.60 661.55 L1277.34 661.59 L1280.08 661.63 L1282.81 661.67 L1285.55 661.71 L1288.29 661.75 L1291.03 661.78 L1293.77 661.82 L1296.51 661.85 L1299.24 661.88 L1301.98 661.91 L1304.72 661.94 L1307.46 661.97 L1310.20 662.00 L1312.93 662.03 L1315.67 662.05" fill="none" stroke="#000" stroke-width="2.6" stroke-linejoin="round"/>
</g>
<rect x="754" y="436.5" width="571.6" height="352.9" fill="none" stroke="#8e8e8e" stroke-width="1.05"/>
<path d="M765.3 789.8v-1.4500000000000002M765.3 436.1v1.4500000000000002M799.61 789.8v-1.2000000000000002M799.61 436.1v1.2000000000000002M833.92 789.8v-1.2000000000000002M833.92 436.1v1.2000000000000002M868.24 789.8v-1.2000000000000002M868.24 436.1v1.2000000000000002M902.55 789.8v-1.4500000000000002M902.55 436.1v1.4500000000000002M936.86 789.8v-1.2000000000000002M936.86 436.1v1.2000000000000002M971.17 789.8v-1.2000000000000002M971.17 436.1v1.2000000000000002M1005.49 789.8v-1.2000000000000002M1005.49 436.1v1.2000000000000002M1039.8 789.8v-1.4500000000000002M1039.8 436.1v1.4500000000000002M1074.11 789.8v-1.2000000000000002M1074.11 436.1v1.2000000000000002M1108.42 789.8v-1.2000000000000002M1108.42 436.1v1.2000000000000002M1142.74 789.8v-1.2000000000000002M1142.74 436.1v1.2000000000000002M1177.05 789.8v-1.4500000000000002M1177.05 436.1v1.4500000000000002M1211.36 789.8v-1.2000000000000002M1211.36 436.1v1.2000000000000002M1245.67 789.8v-1.2000000000000002M1245.67 436.1v1.2000000000000002M1279.99 789.8v-1.2000000000000002M1279.99 436.1v1.2000000000000002M1314.3 789.8v-1.4500000000000002M1314.3 436.1v1.4500000000000002M753.6 782.2h1.4500000000000002M1326 782.2h-1.4500000000000002M753.6 761.02h1.2000000000000002M1326 761.02h-1.2000000000000002M753.6 739.83h1.2000000000000002M1326 739.83h-1.2000000000000002M753.6 718.65h1.2000000000000002M1326 718.65h-1.2000000000000002M753.6 697.46h1.4500000000000002M1326 697.46h-1.4500000000000002M753.6 676.28h1.2000000000000002M1326 676.28h-1.2000000000000002M753.6 655.09h1.2000000000000002M1326 655.09h-1.2000000000000002M753.6 633.91h1.2000000000000002M1326 633.91h-1.2000000000000002M753.6 612.72h1.4500000000000002M1326 612.72h-1.4500000000000002M753.6 591.54h1.2000000000000002M1326 591.54h-1.2000000000000002M753.6 570.35h1.2000000000000002M1326 570.35h-1.2000000000000002M753.6 549.17h1.2000000000000002M1326 549.17h-1.2000000000000002M753.6 527.98h1.4500000000000002M1326 527.98h-1.4500000000000002M753.6 506.8h1.2000000000000002M1326 506.8h-1.2000000000000002M753.6 485.61h1.2000000000000002M1326 485.61h-1.2000000000000002M753.6 464.43h1.2000000000000002M1326 464.43h-1.2000000000000002M753.6 443.24h1.4500000000000002M1326 443.24h-1.4500000000000002" stroke="#686868" stroke-width="1.3" fill="none"/>
<text transform="translate(749.7 789.6) rotate(0.06) scale(1 1.033)" font-size="26.73" text-anchor="end">0.00</text>
<text transform="translate(749.7 704.86) rotate(0.06) scale(1 1.033)" font-size="26.73" text-anchor="end">0.02</text>
<text transform="translate(749.7 620.12) rotate(0.06) scale(1 1.033)" font-size="26.73" text-anchor="end">0.04</text>
<text transform="translate(749.7 535.38) rotate(0.06) scale(1 1.033)" font-size="26.73" text-anchor="end">0.06</text>
<text transform="translate(749.7 450.64) rotate(0.06) scale(1 1.033)" font-size="26.73" text-anchor="end">0.08</text>
<text transform="translate(765.3 813.6) rotate(0.06) scale(1 1.033)" font-size="26.73" text-anchor="middle">0</text>
<text transform="translate(902.55 813.6) rotate(0.06) scale(1 1.033)" font-size="26.73" text-anchor="middle">20</text>
<text transform="translate(1039.8 813.6) rotate(0.06) scale(1 1.033)" font-size="26.73" text-anchor="middle">40</text>
<text transform="translate(1177.05 813.6) rotate(0.06) scale(1 1.033)" font-size="26.73" text-anchor="middle">60</text>
<text transform="translate(1314.3 813.6) rotate(0.06) scale(1 1.033)" font-size="26.73" text-anchor="middle">80</text>
<text transform="translate(758.05 456.49) rotate(0.06)"><tspan x="0.00" y="0.00" font-size="21.18">(</tspan><tspan x="7.12" y="1.45" font-size="23.51">d</tspan><tspan x="21.35" y="0.00" font-size="21.18">)</tspan></text>
<text class="it" transform="translate(1033.98 846.68) rotate(0.06)" font-size="27.7" stroke="#000" stroke-width="1.3" stroke-linejoin="round">ℓ</text>
<text transform="translate(670.9 638.7) rotate(-90.06)"><tspan class="it" x="2.26" y="20.13" font-size="29.3">p</tspan><tspan x="18.01" y="18.89" font-size="27.2">(</tspan><tspan class="it" x="28.47" y="19.68" font-size="27.7" stroke="#000" stroke-width="1.3" stroke-linejoin="round">ℓ</tspan><tspan x="41.53" y="18.89" font-size="27.2">)</tspan></text>
</g>
</svg>
</body></html>
